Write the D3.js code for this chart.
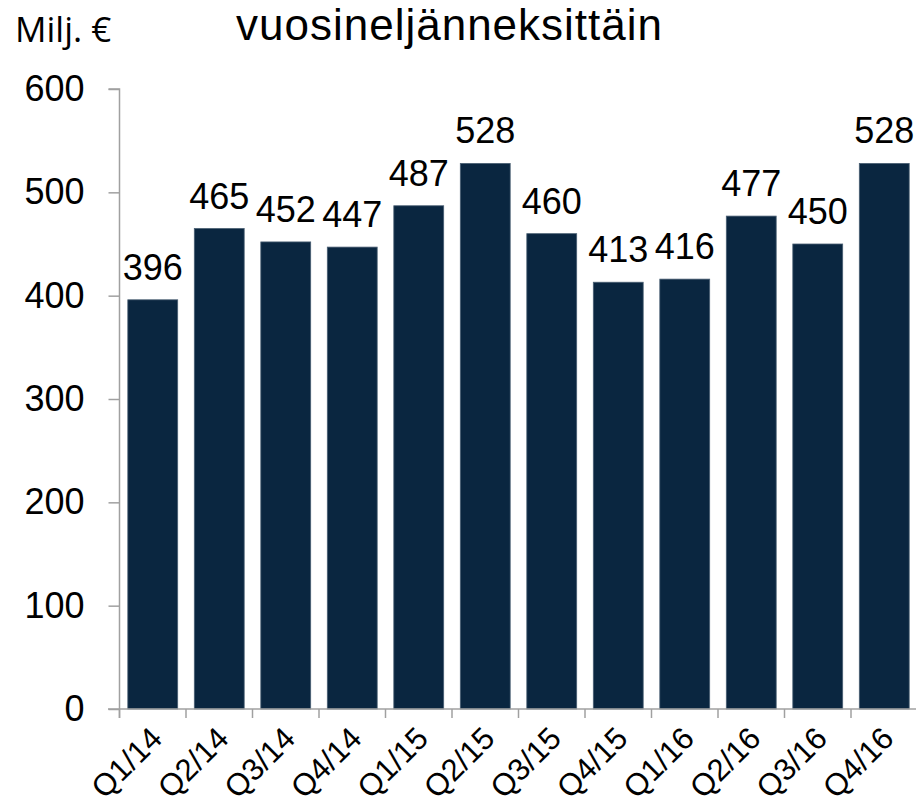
<!DOCTYPE html>
<html>
<head>
<meta charset="utf-8">
<script src="https://cdn.jsdelivr.net/npm/d3@7"></script>
<style>
  body { margin: 0; background: #fff; }
  svg { display: block; overflow: hidden; }
</style>
</head>
<body>
<div id="chart"></div>
<script>
// Quarterly values (Milj. €)
const quarters = ['Q1/14', 'Q2/14', 'Q3/14', 'Q4/14', 'Q1/15', 'Q2/15', 'Q3/15', 'Q4/15', 'Q1/16', 'Q2/16', 'Q3/16', 'Q4/16'];
const values = [396, 465, 452, 447, 487, 528, 460, 413, 416, 477, 450, 528];
const yTicks = [0, 100, 200, 300, 400, 500, 600];

const width = 916;
const height = 804;

const svg = d3.select('#chart')
    .append('svg')
    .attr('width', width)
    .attr('height', height);

const x = d3.scaleBand()
    .domain(quarters)
    .range([119.5, 917.5])
    .paddingInner(0.25)
    .paddingOuter(0.125);

const y = d3.scaleLinear()
    .domain([0, 600])
    .range([709, 89]);

// bars
svg.append('g')
    .selectAll('rect')
    .data(values)
    .join('rect')
    .attr('x', (d, i) => x(quarters[i]))
    .attr('y', d => y(d))
    .attr('width', x.bandwidth())
    .attr('height', d => y(0) - y(d))
    .attr('fill', '#0a2640')
    .attr('stroke', '#4a5f73')
    .attr('stroke-width', 0.8);

// value labels
svg.append('g')
    .selectAll('text')
    .data(values)
    .join('text')
    .attr('x', (d, i) => x(quarters[i]) + x.bandwidth() / 2)
    .attr('y', d => y(d) - 20)
    .attr('text-anchor', 'middle')
    .style('font-family', '"Liberation Sans", Arial, sans-serif')
    .style('font-size', '36px')
    .style('fill', '#000')
    .text(d => d);

// y axis
const yAxis = svg.append('g')
    .attr('transform', 'translate(119.5,0)')
    .call(d3.axisLeft(y).tickValues(yTicks).tickSize(11).tickPadding(24));

yAxis.select('.domain').attr('stroke', '#a0a0a0').attr('stroke-width', 1.5)
    .attr('d', 'M-11,89H0V718');
yAxis.selectAll('.tick line').attr('stroke', '#a0a0a0').attr('stroke-width', 1.5);
yAxis.selectAll('.tick text')
    .style('font-family', '"Liberation Sans", Arial, sans-serif')
    .style('font-size', '36px')
    .style('fill', '#000');

// x axis
const xAxis = svg.append('g')
    .attr('transform', `translate(0,${y(0)})`)
    .call(d3.axisBottom(x).tickSize(0).tickPadding(0));

xAxis.select('.domain').attr('stroke', '#a0a0a0').attr('stroke-width', 1.5)
    .attr('d', 'M108,0H916');

// tick marks between categories
svg.append('g')
    .selectAll('line')
    .data(quarters)
    .join('line')
    .attr('x1', d => x(d) - x.step() * x.paddingOuter())
    .attr('x2', d => x(d) - x.step() * x.paddingOuter())
    .attr('y1', y(0))
    .attr('y2', y(0) + 9)
    .attr('stroke', '#a0a0a0')
    .attr('stroke-width', 1.5);

xAxis.selectAll('.tick text')
    .attr('transform', `translate(${x.bandwidth() / 2 - 29},16) rotate(-45)`)
    .attr('text-anchor', 'end')
    .attr('dy', '0.7em')
    .attr('y', 0)
    .style('font-family', '"Liberation Sans", Arial, sans-serif')
    .style('font-size', '31px')
    .style('fill', '#000');

// titles
svg.append('text')
    .attr('x', 15)
    .attr('y', 42)
    .style('font-family', '"Open Sans", sans-serif')
    .style('font-size', '35px')
    .style('fill', '#000')
    .text('Milj. €');

svg.append('text')
    .attr('x', 236)
    .attr('y', 40)
    .style('font-family', '"Liberation Sans", Arial, sans-serif')
    .style('font-size', '44px')
    .style('textLength', null)
    .attr('textLength', 426)
    .style('fill', '#000')
    .text('vuosineljänneksittäin');
</script>
</body>
</html>
